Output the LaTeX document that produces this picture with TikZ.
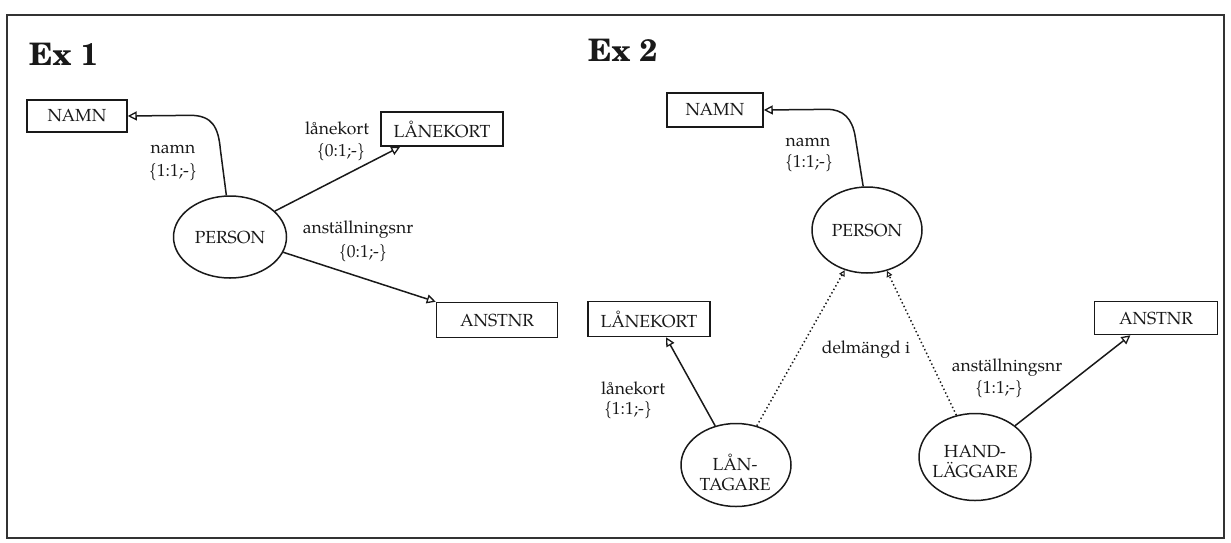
\documentclass[tikz,border=0pt]{standalone}
\usepackage{fontspec}
\setmainfont{texgyrepagella-regular.otf}
\newfontfamily\titlefont{texgyreschola-bold.otf}
\usetikzlibrary{shapes.geometric,arrows.meta}

\begin{document}
\begin{tikzpicture}[x=1pt,y=-1pt,
  every node/.style={font=\fontsize{17.5}{20}\selectfont, text=black!90},
  entity/.style={draw=black!90, line width=1.5pt, rectangle, inner sep=0pt, minimum height=34pt},
  obj/.style={draw=black!90, ellipse, line width=1.5pt, inner sep=0pt, align=center},
  conn/.style={draw=black!90, line width=1.5pt, -{Triangle[open,length=9pt,width=9pt,line width=1.3pt]}},
  sub/.style={draw=black!90, line width=1.5pt, dash pattern=on 1.4pt off 2.6pt,
              -{Triangle[open,length=6pt,width=6pt,line width=1.1pt]}},
  lbl/.style={inner sep=0pt},
  title/.style={font=\titlefont\fontsize{31}{34}\selectfont, anchor=base west, inner sep=0pt}
]
\useasboundingbox (0,0) rectangle (1231,542);
\draw[line width=2.6pt, black!80] (7,15) rectangle (1224,538);

% ---------- Ex 1 ----------
\node[title] (t1) at (29,65) {Ex 1};

\node[entity, minimum width=100pt, minimum height=32pt] (namn1) at (77,116) {NAMN};
\node[entity, minimum width=122pt] (lan1) at (442,129) {LÅNEKORT};
\node[entity, minimum width=121pt, minimum height=35pt] (ansr1) at (497,320) {ANSTNR};
\node[obj, minimum width=113pt, minimum height=82pt] (p1) at (230,237) {PERSON};

\draw[conn] (p1.95) -- ++(-6,-46) .. controls +(-2,-22) and +(22,0) .. ++(-30,-34) -- (namn1.east);
\draw[conn] (p1.30) -- (lan1.203);
\draw[conn] (p1.-16) -- (ansr1.north west);

\node[lbl] (l1a) at (173,149) {namn};
\node[lbl] (l1b) at (173,172) {\{1:1;-\}};
\node[lbl] (l1c) at (337,128) {lånekort};
\node[lbl] (l1d) at (341,152) {\{0:1;-\}};
\node[lbl] (l1e) at (358,230) {anställningsnr};
\node[lbl] (l1f) at (363,253) {\{0:1;-\}};

% ---------- Ex 2 ----------
\node[title] (t2) at (588,61) {Ex 2};

\node[entity, minimum width=96pt] (namn2) at (715,110) {NAMN};
\node[entity, minimum width=122pt, minimum height=35pt] (lan2) at (649,319) {LÅNEKORT};
\node[entity, minimum width=123pt, minimum height=33pt] (ansr2) at (1156,318) {ANSTNR};
\node[obj, minimum width=110pt, minimum height=86pt] (p2) at (867,230) {PERSON};
\node[obj, minimum width=110pt, minimum height=83pt] (lt) at (736,465) {};
\node[obj, minimum width=112pt, minimum height=87pt] (hl) at (975,457) {};
\node[lbl, align=center] (ltx) at (735,472) {LÅN-\\TAGARE};
\node[lbl, align=center] (hlx) at (975,462) {HAND-\\LÄGGARE};

\draw[conn] (p2.95) -- ++(-8,-50) .. controls +(-3,-18) and +(16,0) .. ++(-28,-27) -- (namn2.east);
\draw[conn] (lt.118) -- (lan2.-47);
\draw[conn] (hl.38) -- (ansr2.-146);
\draw[sub] (lt.62) -- (p2.-119);
\draw[sub] (hl.114) -- (p2.-64);

\node[lbl] (l2a) at (808,142) {namn};
\node[lbl] (l2b) at (809,163) {\{1:1;-\}};
\node[lbl] (l2c) at (633,388) {lånekort};
\node[lbl] (l2d) at (628,410) {\{1:1;-\}};
\node[lbl] (l2e) at (866,350) {delmängd i};
\node[lbl] (l2f) at (1007,368) {anställningsnr};
\node[lbl] (l2g) at (999,389) {\{1:1;-\}};
\end{tikzpicture}
\end{document}
